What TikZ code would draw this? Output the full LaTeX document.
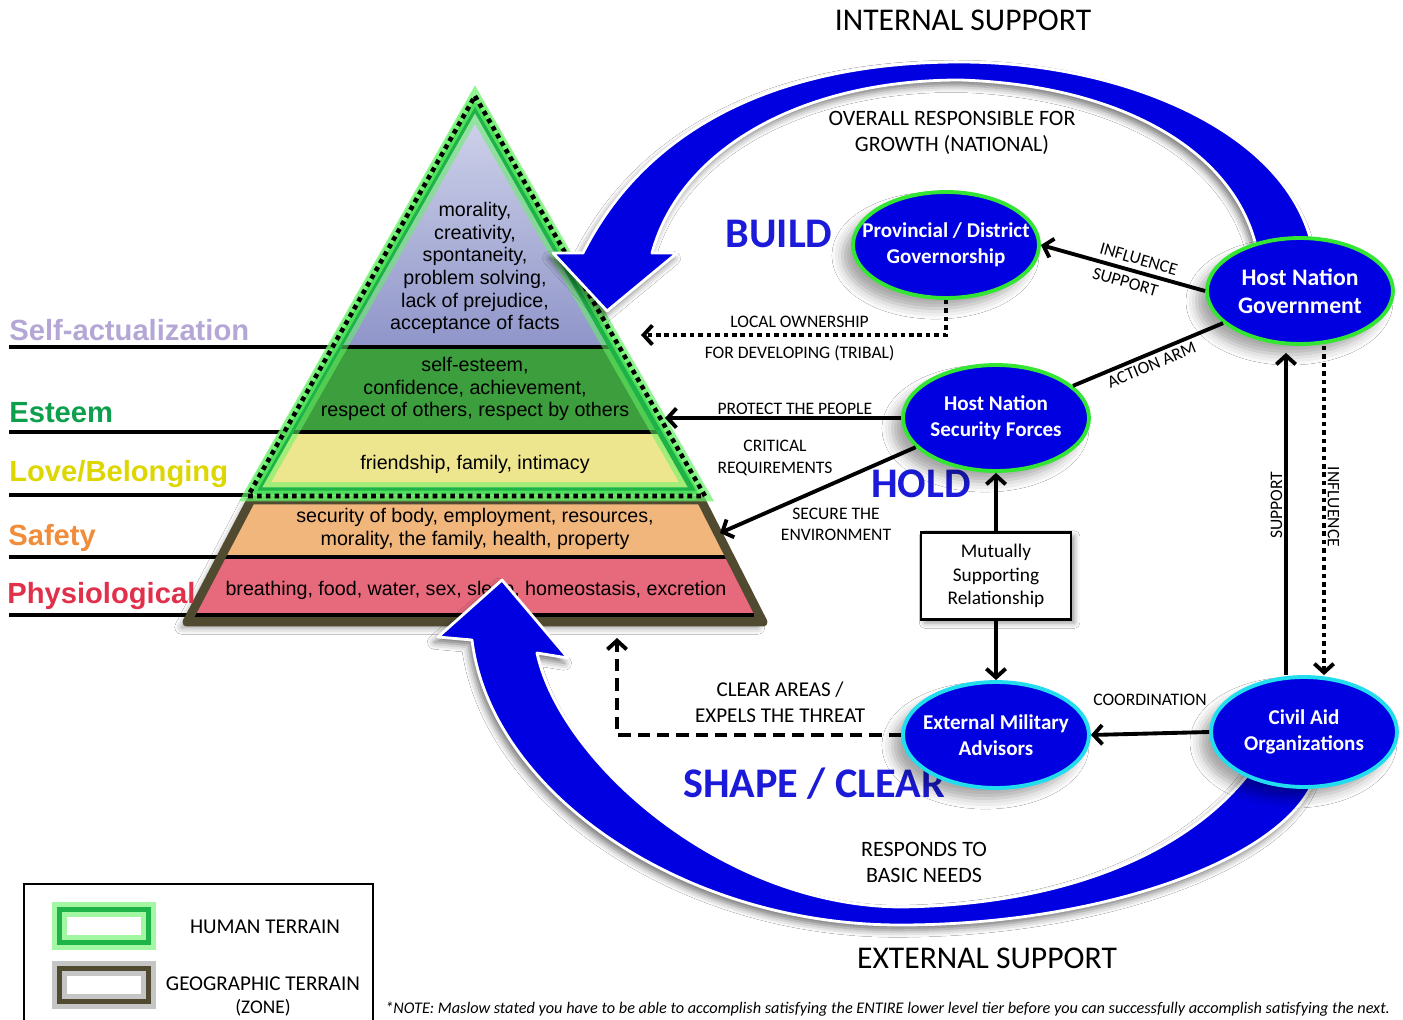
\documentclass[tikz,border=0pt]{standalone}
\usepackage{fontspec}
\setmainfont{Carlito}
\newfontfamily\arialfont{Liberation Sans}
\usetikzlibrary{arrows.meta,calc,shapes.geometric,shadows.blur}

\definecolor{hnblue}{HTML}{0000E0}
\definecolor{limeedge}{HTML}{33E633}
\definecolor{cyanedge}{HTML}{22DDEE}
\definecolor{terraingreen}{HTML}{1DB347}
\definecolor{terrainglow}{HTML}{66F266}
\definecolor{zonebrown}{HTML}{4F4A30}
\definecolor{selfcol}{HTML}{B4A7D6}
\definecolor{esteemcol}{HTML}{0E9F4C}
\definecolor{lovecol}{HTML}{DDD600}
\definecolor{safetycol}{HTML}{F08C3A}
\definecolor{physcol}{HTML}{E0304A}
\definecolor{selftop}{HTML}{D3D6EC}
\definecolor{selfbottom}{HTML}{8F95C9}
\definecolor{esteemfill}{HTML}{3C9E3C}
\definecolor{lovefill}{HTML}{EDE68E}
\definecolor{safetyfill}{HTML}{F1B67C}
\definecolor{physfill}{HTML}{E6697C}
\definecolor{wordblue}{HTML}{1A1AD8}

\tikzset{
  actor/.style={ellipse, fill=hnblue, draw=limeedge, line width=2.2pt, minimum width=3.72cm, minimum height=2.12cm, inner xsep=-14pt, inner ysep=-4pt, align=center, text=white, font=\fontsize{12}{14.7}\selectfont\bfseries, blur shadow={shadow xshift=-6pt, shadow yshift=-6pt, shadow blur radius=6pt, shadow opacity=35}},
  extactor/.style={actor, draw=cyanedge},
  conn/.style={line width=2.2pt, -{Straight Barb[length=5pt,width=11pt]}},
  dotconn/.style={conn, dash pattern=on 2.6pt off 2.2pt},
  dashconn/.style={conn, dash pattern=on 7pt off 4pt},
  lbl/.style={font=\fontsize{10}{12}\selectfont, align=center, inner sep=1pt},
  biglbl/.style={font=\fontsize{12.5}{14.8}\selectfont, align=center, inner sep=0pt},
  bigword/.style={font=\fontsize{24}{26}\selectfont\bfseries, text=wordblue, inner sep=0pt},
  tiertext/.style={font=\arialfont\fontsize{11.2}{12.9}\selectfont, text=black, align=center, inner sep=0pt},
  levelname/.style={font=\arialfont\bfseries\fontsize{16.6}{18}\selectfont, anchor=west, inner sep=0pt},
  levelline/.style={line width=2pt, black},
  bandarrow/.style={fill=hnblue, draw=white, line width=1.6pt, line join=round, blur shadow={shadow xshift=-2pt, shadow yshift=-3pt, shadow blur radius=4pt, shadow opacity=55}}
}

\begin{document}
\begin{tikzpicture}[x=0.02cm, y=-0.02cm]
\fill[white] (0,0) rectangle (1403,1020);
\useasboundingbox (0,0) rectangle (1403,1020);

\path[fill=white, blur shadow={shadow xshift=-3pt, shadow yshift=-3pt, shadow blur radius=4pt, shadow opacity=45}] (251,500) -- (701,500) -- (763,622) -- (187,622) -- cycle;
\begin{scope}
  \clip (251,500) -- (701,500) -- (763,622) -- (187,622) -- cycle;
  \fill[safetyfill] (180,495) rectangle (770,557);
  \fill[physfill] (180,557) rectangle (770,615);
  \fill[zonebrown] (180,615) rectangle (770,630);
\end{scope}
\begin{scope}
  \clip (475,106) -- (694,491) -- (256,491) -- cycle;
  \shade[top color=selftop, bottom color=selfbottom] (250,100) rectangle (700,347);
  \fill[esteemfill] (250,347) rectangle (700,432);
  \fill[lovefill] (250,432) rectangle (700,492);
\end{scope}

\draw[levelline] (9,347) -- (611,347);
\draw[levelline] (9,432) -- (659,432);
\draw[levelline] (9,495) -- (250,495);
\draw[levelline] (9,557) -- (728,557);
\draw[levelline] (9,615) -- (754,615);

\draw[zonebrown, line width=5pt, line join=round] (251,500) -- (701,500) -- (763,622) -- (187,622) -- cycle;
\draw[terrainglow, line width=10pt, opacity=0.55, line join=round] (475,106) -- (694,491) -- (256,491) -- cycle;
\draw[terraingreen, line width=4pt, line join=round] (475,106) -- (694,491) -- (256,491) -- cycle;
\draw[terrainglow, line width=6pt, opacity=0.7] (475,96) -- (705,496) -- (248,496) -- cycle;
\draw[black, line width=2.6pt, dash pattern=on 2.6pt off 2.4pt] (475,96) -- (705,496) -- (248,496) -- cycle;

\node[tiertext] (selftext) at (475,268) {morality,\\creativity,\\spontaneity,\\problem solving,\\lack of prejudice,\\acceptance of facts};
\node[tiertext] (esteemtext) at (475,389) {self-esteem,\\confidence, achievement,\\respect of others, respect by others};
\node[tiertext] (lovetext) at (475,464) {friendship, family, intimacy};
\node[tiertext] (safetytext) at (475,529) {security of body, employment, resources,\\morality, the family, health, property};
\node[tiertext] (phystext) at (476,590) {breathing, food, water, sex, sleep, homeostasis, excretion};

\node[levelname, text=selfcol] (selfname) at (9,330) {Self-actualization};
\node[levelname, text=esteemcol] (esteemname) at (9,413) {Esteem};
\node[levelname, text=lovecol] (lovename) at (9,474) {Love/Belonging};
\node[levelname, text=safetycol] (safetyname) at (8,538) {Safety};
\node[levelname, text=physcol] (physname) at (7,596) {Physiological};

\path[bandarrow] (583,253) .. controls (650,120) and (790,62) .. (960,62) .. controls (1120,62) and (1290,130) .. (1313,250) -- (1257,250) .. controls (1235,150) and (1120,85) .. (960,80) .. controls (800,80) and (680,150) .. (652,253) -- (677,253) -- (607,311) -- (553,253) -- cycle;
\path[bandarrow] (472,640) .. controls (490,790) and (680,925) .. (900,925) .. controls (1100,925) and (1285,860) .. (1315,778) -- (1250,772) .. controls (1190,850) and (1070,905) .. (900,907) .. controls (720,905) and (560,760) .. (537,653) -- (568,658) -- (502,580) -- (438,637) -- cycle;

\node[font=\fontsize{18}{20}\selectfont] (internal) at (963,20) {INTERNAL SUPPORT};
\node[font=\fontsize{18}{20}\selectfont] (external) at (987,958) {EXTERNAL SUPPORT};
\node[biglbl] (overall) at (952,133) {OVERALL RESPONSIBLE FOR\\GROWTH (NATIONAL)};
\node[biglbl] (responds) at (924,862) {RESPONDS TO\\BASIC NEEDS};

\node[bigword] (build) at (779,234) {BUILD};
\node[bigword] (hold) at (921,484) {HOLD};
\node[bigword] (shape) at (814,784) {SHAPE / CLEAR};

\node[actor] (prov) at (946,245) {Provincial / District\\Governorship};
\node[actor, font=\fontsize{13.5}{16}\selectfont\bfseries] (hng) at (1300,291) {Host Nation\\Government};
\node[actor] (hnsf) at (996,418) {Host Nation\\Security Forces};
\node[extactor] (ema) at (996,735) {External Military\\Advisors};
\node[extactor, minimum height=2.2cm] (cao) at (1304,732) {Civil Aid\\Organizations};
\node[draw, line width=1.2pt, fill=white, minimum width=3cm, minimum height=1.74cm, align=center, font=\fontsize{11}{13.3}\selectfont, blur shadow={shadow xshift=2pt, shadow yshift=-2pt, shadow blur radius=3pt, shadow opacity=40}] (msr) at (996,576) {Mutually\\Supporting\\Relationship};

\coordinate (localend) at (641,335);
\coordinate (protect) at (665,418);
\coordinate (secure) at (720,533);
\coordinate (clearend) at (617,638);

\draw[conn] (hng.west) -- (prov.east) node[pos=0.42, above=2pt, rotate=-16, lbl] {INFLUENCE} node[pos=0.47, below=2pt, rotate=-16, lbl] {SUPPORT};
\draw[line width=2.2pt] (hnsf) -- (hng) node[midway, below=1pt, rotate=22.5, lbl] {ACTION ARM};
\draw[dotconn] (prov.south) |- (localend) node[pos=0.74, above=2pt, lbl] {LOCAL OWNERSHIP} node[pos=0.74, below=4pt, lbl] {FOR DEVELOPING (TRIBAL)};
\draw[conn] (hnsf.west) -- (protect) node[pos=0.45, above, lbl] {PROTECT THE PEOPLE};
\draw[conn] (hnsf.200) -- (secure);
\node[lbl] (critical) at (775,458) {CRITICAL\\REQUIREMENTS};
\node[lbl] (securelbl) at (836,524) {SECURE THE\\ENVIRONMENT};
\draw[conn] (msr) -- (hnsf);
\draw[conn] (msr) -- (ema);
\draw[conn, shorten >=4pt] ($(cao.north)+(-18,0)$) -- ($(hng.south)+(-14,0)$) node[midway, above=3pt, rotate=90, lbl] {SUPPORT};
\draw[dotconn] ($(hng.south)+(24,0)$) -- ($(cao.north)+(20,0)$) node[midway, above=2pt, rotate=-90, lbl] {INFLUENCE};
\draw[conn] (cao.west) -- (ema.east) node[midway, above=14pt, lbl] {COORDINATION};
\draw[dashconn] (ema.west) -| (clearend) node[pos=0.213, above=5pt, lbl, font=\fontsize{12}{14.5}\selectfont] {CLEAR AREAS /\\EXPELS THE THREAT};

\draw[line width=1.6pt] (24,884) rectangle (373,1030);
\node[draw=terraingreen, line width=3pt, minimum width=1.78cm, minimum height=0.66cm, preaction={draw=terrainglow, line width=8pt, opacity=0.6}] (humanswatch) at (104,926) {};
\node[draw=zonebrown, line width=3pt, minimum width=1.78cm, minimum height=0.66cm, preaction={draw=gray, line width=8pt, opacity=0.45}] (zoneswatch) at (104,985) {};
\node[font=\fontsize{12}{14}\selectfont] (humanlbl) at (265,927) {HUMAN TERRAIN};
\node[font=\fontsize{12}{14}\selectfont] (zonelbl) at (263,984) {GEOGRAPHIC TERRAIN};
\node[font=\fontsize{11}{13}\selectfont] (zonesub) at (263,1008) {(ZONE)};
\node[anchor=west, inner sep=0pt, font=\itshape\fontsize{9.25}{10}\selectfont] (note) at (385,1009) {*NOTE: Maslow stated you have to be able to accomplish satisfying the ENTIRE lower level tier before you can successfully accomplish satisfying the next.};
\end{tikzpicture}
\end{document}
